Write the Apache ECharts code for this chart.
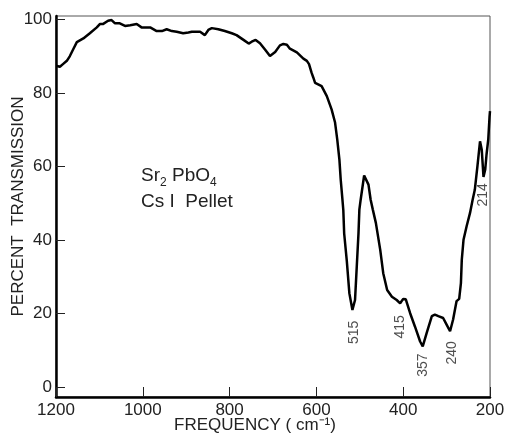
<!DOCTYPE html>
<html>
<head>
<meta charset="utf-8">
<script src="https://cdn.jsdelivr.net/npm/echarts@6/dist/echarts.min.js"></script>
<style>
  html, body { margin: 0; padding: 0; background: #fff; }
  #chart { width: 508px; height: 440px; }
</style>
</head>
<body>
<div id="chart"></div>
<script>
// frequency (cm-1), high to low
var freq = [1198, 1191, 1184, 1175, 1168, 1160, 1152, 1137, 1122, 1106, 1099, 1092, 1080, 1072, 1064, 1053,
  1041, 1029, 1014, 1003, 983, 968, 956, 945, 933, 922, 907, 895, 887, 868, 857, 849, 841, 826, 811, 795,
  784, 768, 756, 749, 740, 730, 718, 707, 695, 684, 676, 668, 661, 645, 630, 622, 617, 611, 607, 603, 596,
  588, 576, 565, 557, 552, 547, 544, 540, 538, 536, 530, 524, 517, 515, 511, 507, 503, 501, 498, 490, 480,
  475, 470, 463, 453, 446, 437, 426, 415, 407, 400, 394, 384, 373, 361, 355, 346, 334, 327, 319, 308, 300,
  292, 285, 277, 271, 267, 265, 261, 254, 246, 240, 235, 229, 223, 219, 215, 211, 208, 204, 201, 200];
// percent transmission
var trans = [87.4, 87.2, 87.9, 88.8, 90.1, 92.0, 93.9, 94.9, 96.3, 97.9, 98.8, 98.8, 99.7, 99.9, 99.0, 99.0,
  98.3, 98.5, 98.8, 97.9, 97.9, 96.9, 96.9, 97.4, 96.9, 96.7, 96.3, 96.5, 96.7, 96.7, 95.8, 97.2, 97.7, 97.4, 96.9, 96.3,
  95.8, 94.5, 93.5, 94.0, 94.5, 93.6, 91.8, 90.1, 91.2, 93.0, 93.4, 93.2, 92.1, 91.1, 89.4, 88.8, 87.9, 85.5, 84.2, 82.8, 82.4,
  81.9, 79.2, 75.6, 72.0, 67.4, 61.9, 56.5, 51.0, 48.2, 41.8, 34.4, 25.5, 21.0, 20.5, 23.7, 32.8, 41.9, 48.3, 51.0, 57.6, 55.1,
  51.0, 48.3, 44.7, 37.4, 31.0, 26.4, 24.6, 23.7, 22.8, 24.0, 23.9, 20.1, 16.5, 12.4, 11.1, 14.7, 19.3, 19.7, 19.3, 18.8, 17.0,
  15.2, 18.4, 23.4, 24.0, 28.3, 34.7, 40.1, 43.7, 47.4, 51.0, 53.7, 60.1, 66.9, 64.6, 57.2, 59.2, 63.3, 67.4, 73.7, 75.1];

// band labels, placed beside the minima
var peakNames = ["515", "415", "357", "240", "214"];
var peakFreq = [512, 407, 354, 288, 216];
var peakT = [14.9, 16.4, 6.0, 9.3, 52.3];

var yTicks = [0, 20, 40, 60, 80, 100];

var lineData = [];
for (var i = 0; i < freq.length; i++) {
  lineData.push([freq[i], trans[i]]);
}
var peakData = [];
for (var j = 0; j < peakNames.length; j++) {
  peakData.push([peakFreq[j], peakT[j], peakNames[j]]);
}

var chart = echarts.init(document.getElementById("chart"));
var option = {
  animation: false,
  grid: {
    left: 56,
    right: 18,
    top: 16,
    bottom: 43,
    containLabel: false,
    outerBoundsMode: "none",
    show: true,
    borderColor: "#555",
    borderWidth: 1
  },
  xAxis: {
    type: "value",
    inverse: true,
    min: 200,
    max: 1200,
    interval: 200,
    splitLine: { show: false },
    axisLine: { onZero: false, lineStyle: { color: "#000", width: 2.5 } },
    axisTick: { inside: true, length: 10, lineStyle: { color: "#222", width: 1 } },
    axisLabel: {
      margin: 5,
      color: "#222",
      fontSize: 17,
      fontFamily: "Liberation Sans Narrow, Liberation Sans, sans-serif",
      formatter: function (v) {
        return String(v);
      }
    },
    name: "FREQUENCY ( cm\u207B\u00B9)",
    nameLocation: "middle",
    nameGap: 20,
    nameMoveOverlap: false,
    nameTextStyle: {
      color: "#222",
      fontSize: 17,
      fontFamily: "Liberation Sans, sans-serif",
      padding: [0, 36, 0, 0]
    }
  },
  yAxis: {
    type: "value",
    min: -2.7,
    max: 101,
    splitLine: { show: false },
    axisLine: { onZero: false, lineStyle: { color: "#000", width: 2.5 } },
    axisTick: { inside: true, length: 9, customValues: yTicks, lineStyle: { color: "#222", width: 1 } },
    axisLabel: {
      customValues: yTicks,
      margin: 4,
      color: "#222",
      fontSize: 17,
      fontFamily: "Liberation Sans, sans-serif"
    },
    name: "PERCENT  TRANSMISSION",
    nameLocation: "middle",
    nameRotate: 90,
    nameGap: 29,
    nameMoveOverlap: false,
    nameTextStyle: {
      color: "#222",
      fontSize: 17,
      fontFamily: "Liberation Sans, sans-serif"
    }
  },
  graphic: [
    {
      type: "text",
      left: 141,
      top: 166,
      style: {
        text: "{a|Sr}{s|2}{a| PbO}{s|4}",
        rich: {
          a: { fontSize: 19, fontFamily: "Liberation Sans Narrow, Liberation Sans, sans-serif", fill: "#222", verticalAlign: "bottom", lineHeight: 20 },
          s: { fontSize: 12, fontFamily: "Liberation Sans Narrow, Liberation Sans, sans-serif", fill: "#222", verticalAlign: "bottom", lineHeight: 14, padding: [0, 0, -4, 0] }
        }
      }
    },
    {
      type: "text",
      left: 141,
      top: 192,
      style: {
        text: "Cs I  Pellet",
        fontSize: 19,
        fontFamily: "Liberation Sans Narrow, Liberation Sans, sans-serif",
        fill: "#222"
      }
    }
  ],
  series: [
    {
      type: "line",
      data: lineData,
      symbol: "none",
      smooth: false,
      lineStyle: { color: "#000", width: 2.5 },
      silent: true
    },
    {
      type: "scatter",
      data: peakData,
      symbolSize: 0,
      silent: true,
      label: {
        show: true,
        position: "inside",
        rotate: 90,
        color: "#222",
        fontSize: 14,
        fontFamily: "Liberation Sans Narrow, Liberation Sans, sans-serif",
        formatter: function (p) {
          return p.value[2];
        }
      }
    }
  ]
};
chart.setOption(option);
</script>
</body>
</html>
